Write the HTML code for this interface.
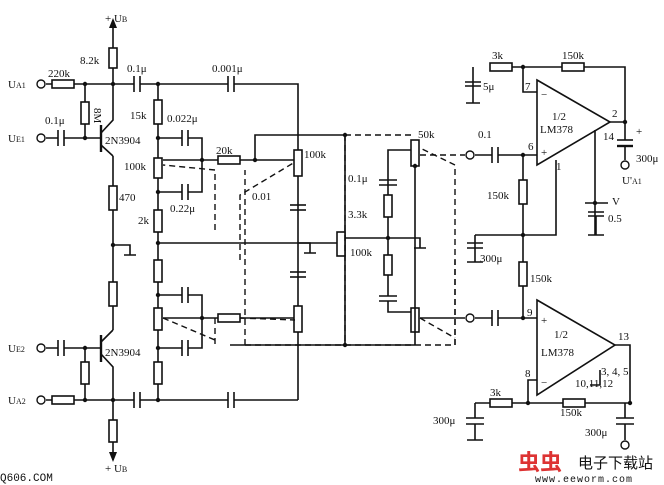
<!DOCTYPE html>
<html><head><meta charset="utf-8"><style>
html,body{margin:0;padding:0;background:#fff;}
svg{display:block;font-family:"Liberation Serif",serif;}
text{font-size:11px;fill:#111;}
</style></head><body>
<svg width="664" height="485" viewBox="0 0 664 485" xmlns="http://www.w3.org/2000/svg">
<g stroke="#111" stroke-width="1.6" fill="none">
<!-- top bus -->
<path d="M46 84H134M140 84H228M234 84H298V400"/>
<line x1="134" y1="76" x2="134" y2="92"/><line x1="140" y1="76" x2="140" y2="92"/>
<line x1="228" y1="76" x2="228" y2="92"/><line x1="234" y1="76" x2="234" y2="92"/>
<!-- UB top -->
<path d="M113 28V84"/>
<rect x="109" y="48" width="8" height="20" fill="#fff"/>
<!-- 220k -->
<rect x="52" y="80" width="22" height="8" fill="#fff"/>
<!-- 8M -->
<path d="M85 84V138"/><rect x="81" y="102" width="8" height="22" fill="#fff"/>
<!-- UE1 -->
<path d="M46 138H58M64 138H100"/>
<line x1="58" y1="130" x2="58" y2="146"/><line x1="64" y1="130" x2="64" y2="146"/>
<!-- T1 -->
<line x1="101" y1="125" x2="101" y2="152" stroke-width="2.4"/>
<path d="M101 133L113 120V84M101 145L113 156"/>
<!-- left emitter column -->
<path d="M113 156V330"/>
<rect x="109" y="186" width="8" height="24" fill="#fff"/>
<rect x="109" y="282" width="8" height="24" fill="#fff"/>
<path d="M113 245H130V255M124 255H136"/>
<!-- T2 -->
<line x1="101" y1="335" x2="101" y2="362" stroke-width="2.4"/>
<path d="M101 342L113 330M101 354L113 367V460"/>
<path d="M46 348H58M64 348H101"/>
<line x1="58" y1="340" x2="58" y2="356"/><line x1="64" y1="340" x2="64" y2="356"/>
<path d="M85 348V400"/><rect x="81" y="362" width="8" height="22" fill="#fff"/>
<!-- bottom bus -->
<path d="M46 400H134M140 400H228M234 400H298"/>
<rect x="52" y="396" width="22" height="8" fill="#fff"/>
<line x1="134" y1="392" x2="134" y2="408"/><line x1="140" y1="392" x2="140" y2="408"/>
<line x1="228" y1="392" x2="228" y2="408"/><line x1="234" y1="392" x2="234" y2="408"/>
<rect x="109" y="420" width="8" height="22" fill="#fff"/>
<!-- bias column -->
<path d="M158 84V400"/>
<rect x="154" y="100" width="8" height="24" fill="#fff"/>
<rect x="154" y="158" width="8" height="20" fill="#fff"/>
<rect x="154" y="210" width="8" height="22" fill="#fff"/>
<rect x="154" y="260" width="8" height="22" fill="#fff"/>
<rect x="154" y="308" width="8" height="22" fill="#fff"/>
<rect x="154" y="362" width="8" height="22" fill="#fff"/>
<!-- caps in bias -->
<path d="M158 138H182M188 138H202V192H188M182 192H158"/>
<line x1="182" y1="130" x2="182" y2="146"/><line x1="188" y1="130" x2="188" y2="146"/>
<line x1="182" y1="184" x2="182" y2="200"/><line x1="188" y1="184" x2="188" y2="200"/>
<path d="M158 295H182M188 295H202V348H188M182 348H158"/>
<line x1="182" y1="287" x2="182" y2="303"/><line x1="188" y1="287" x2="188" y2="303"/>
<line x1="182" y1="340" x2="182" y2="356"/><line x1="188" y1="340" x2="188" y2="356"/>
<!-- wiper lines -->
<path d="M163 160H218M240 160H295"/>
<rect x="218" y="156" width="22" height="8" fill="#fff"/>
<rect x="294" y="150" width="8" height="26" fill="#fff"/>
<path d="M163 318H218M240 318H295"/>
<rect x="218" y="314" width="22" height="8" fill="#fff"/>
<rect x="294" y="306" width="8" height="26" fill="#fff"/>
<path d="M255 160V135H345"/>
<!-- 0.01 caps -->
<line x1="290" y1="205" x2="306" y2="205"/><line x1="290" y1="210" x2="306" y2="210"/>
<line x1="290" y1="272" x2="306" y2="272"/><line x1="290" y1="277" x2="306" y2="277"/>
<!-- ground bus -->
<path d="M158 243H345"/><path d="M298 243H310V253M304 253H316"/>
<!-- middle -->
<path d="M345 135V345H230"/>
<rect x="337" y="232" width="8" height="24" fill="#fff"/>
<path d="M345 238H388V150H412M388 238H420V248M414 248H426"/>
<rect x="384" y="195" width="8" height="22" fill="#fff"/>
<line x1="379" y1="185" x2="397" y2="185"/><line x1="379" y1="180" x2="397" y2="180"/>
<line x1="379" y1="296" x2="397" y2="296"/><line x1="379" y1="301" x2="397" y2="301"/>
<path d="M388 238V296M388 301V312H412"/>
<rect x="384" y="255" width="8" height="20" fill="#fff"/>
<rect x="411" y="140" width="8" height="26" fill="#fff"/>
<rect x="411" y="308" width="8" height="24" fill="#fff"/>
<path d="M415 166V345M345 345H415"/>
<path d="M420 318H465M475 318H492M498 318H523"/>
<line x1="492" y1="310" x2="492" y2="326"/><line x1="498" y1="310" x2="498" y2="326"/>
<path d="M475 155H492M498 155H537"/>
<line x1="492" y1="147" x2="492" y2="163"/><line x1="498" y1="147" x2="498" y2="163"/>
<!-- opamp1 -->
<path d="M537 80L610 122L537 165Z"/>
<path d="M610 122H625V140M625 146V160"/>
<line x1="617" y1="140" x2="633" y2="140"/><line x1="617" y1="146" x2="633" y2="146" stroke-width="2.4"/>
<path d="M523 67V92H537M523 67H490M512 67H625V122"/>
<rect x="490" y="63" width="22" height="8" fill="#fff"/>
<rect x="562" y="63" width="22" height="8" fill="#fff"/>
<path d="M473 67V103M465 82H481M465 86H481M466 103H480"/>
<path d="M523 155V318M556 160V235H523"/>
<rect x="519" y="180" width="8" height="24" fill="#fff"/>
<rect x="519" y="262" width="8" height="24" fill="#fff"/>
<path d="M475 235H523M475 235V262M467 243H483M467 248H483M467 262H483"/>
<path d="M595 130V235M585 203H608M588 212H604M588 216H604M596 216V235M588 235H604"/>
<!-- opamp2 -->
<path d="M537 300L615 345L537 395Z"/>
<path d="M537 318H523M615 345H630V403M537 380H528V403"/>
<path d="M600 370V385H590"/>
<path d="M475 403H490M512 403H630"/>
<rect x="490" y="399" width="22" height="8" fill="#fff"/>
<rect x="563" y="399" width="22" height="8" fill="#fff"/>
<path d="M475 403V418M466 418H484M466 424H484M475 424V440M467 440H483"/>
<path d="M625 403V418M616 418H634M616 424H634M625 424V440"/>
</g>
<g stroke="#111" stroke-width="1.4" fill="none" stroke-dasharray="6,4">
<path d="M245 345V170M245 345H455V165M455 165L420 148"/>
<path d="M345 135H415M345 135V345"/>
<path d="M420 155H465"/>
<path d="M455 345V260"/>
<path d="M215 230V170L163 165M240 260V195L295 162"/>
<path d="M215 318V345M163 318L215 340M240 318L295 320"/>
<path d="M420 318L455 338"/>
</g>
<g fill="#fff" stroke="#111" stroke-width="1.4">
<circle cx="41" cy="84" r="4"/><circle cx="41" cy="138" r="4"/>
<circle cx="41" cy="348" r="4"/><circle cx="41" cy="400" r="4"/>
<circle cx="470" cy="155" r="4"/><circle cx="470" cy="318" r="4"/>
<circle cx="625" cy="165" r="4"/><circle cx="625" cy="445" r="4"/>
</g>
<g fill="#111">
<circle cx="85" cy="84" r="2.2"/><circle cx="113" cy="84" r="2.2"/><circle cx="158" cy="84" r="2.2"/>
<circle cx="85" cy="138" r="2.2"/><circle cx="158" cy="138" r="2.2"/><circle cx="158" cy="192" r="2.2"/>
<circle cx="158" cy="243" r="2.2"/><circle cx="113" cy="245" r="2.2"/><circle cx="158" cy="295" r="2.2"/>
<circle cx="158" cy="348" r="2.2"/><circle cx="85" cy="348" r="2.2"/><circle cx="85" cy="400" r="2.2"/>
<circle cx="113" cy="400" r="2.2"/><circle cx="158" cy="400" r="2.2"/><circle cx="202" cy="160" r="2.2"/>
<circle cx="255" cy="160" r="2.2"/><circle cx="345" cy="135" r="2.2"/><circle cx="345" cy="345" r="2.2"/>
<circle cx="388" cy="238" r="2.2"/><circle cx="523" cy="67" r="2.2"/><circle cx="523" cy="155" r="2.2"/>
<circle cx="523" cy="235" r="2.2"/><circle cx="523" cy="318" r="2.2"/><circle cx="625" cy="122" r="2.2"/>
<circle cx="595" cy="203" r="2.2"/><circle cx="528" cy="403" r="2.2"/><circle cx="630" cy="403" r="2.2"/>
<circle cx="202" cy="318" r="2.2"/><circle cx="415" cy="166" r="2.2"/>
<path d="M109 28L113 18L117 28Z"/><path d="M109 452L113 462L117 452Z"/>
</g>
<text x="105" y="22">+ U<tspan font-size="8">B</tspan></text>
<text x="80" y="64">8.2k</text><text x="127" y="72">0.1μ</text><text x="212" y="72">0.001μ</text>
<text x="8" y="88">U<tspan font-size="8">A1</tspan></text><text x="48" y="77">220k</text>
<text x="90" y="112" transform="rotate(90 94 112)">8M</text>
<text x="45" y="124">0.1μ</text><text x="8" y="142">U<tspan font-size="8">E1</tspan></text>
<text x="105" y="144">2N3904</text><text x="130" y="119">15k</text><text x="167" y="122">0.022μ</text>
<text x="124" y="170">100k</text><text x="216" y="154">20k</text><text x="304" y="158">100k</text>
<text x="119" y="201">470</text><text x="170" y="212">0.22μ</text><text x="252" y="200">0.01</text>
<text x="138" y="224">2k</text><text x="8" y="352">U<tspan font-size="8">E2</tspan></text>
<text x="105" y="356">2N3904</text><text x="8" y="404">U<tspan font-size="8">A2</tspan></text>
<text x="105" y="472">+ U<tspan font-size="8">B</tspan></text>
<text x="418" y="138">50k</text><text x="478" y="138">0.1</text><text x="348" y="182">0.1μ</text>
<text x="348" y="218">3.3k</text><text x="350" y="256">100k</text>
<text x="492" y="59">3k</text><text x="562" y="59">150k</text><text x="483" y="90">5μ</text>
<text x="525" y="90">7</text><text x="541" y="98">−</text><text x="552" y="120">1/2</text><text x="540" y="133">LM378</text>
<text x="612" y="117">2</text><text x="603" y="140">14</text><text x="636" y="135">+</text>
<text x="528" y="150">6</text><text x="541" y="156">+</text><text x="556" y="170">1</text>
<text x="636" y="162">300μ</text><text x="622" y="184">U'<tspan font-size="8">A1</tspan></text>
<text x="612" y="205">V</text><text x="608" y="222">0.5</text>
<text x="487" y="199">150k</text><text x="480" y="262">300μ</text><text x="530" y="282">150k</text>
<text x="527" y="316">9</text><text x="541" y="324">+</text><text x="554" y="338">1/2</text><text x="541" y="356">LM378</text>
<text x="618" y="340">13</text><text x="525" y="377">8</text><text x="541" y="386">−</text>
<text x="601" y="375">3, 4, 5</text><text x="575" y="387">10,11,12</text>
<text x="490" y="396">3k</text><text x="560" y="416">150k</text>
<text x="433" y="424">300μ</text><text x="585" y="436">300μ</text>
<text x="0" y="481" font-family="Liberation Mono" font-size="10">Q606.COM</text>
<text x="518" y="470" style="font-size:22px;fill:#d33;font-weight:bold;font-family:'Noto Sans CJK SC',sans-serif">虫虫</text>
<text x="578" y="468" style="font-size:15px;font-family:'Noto Sans CJK SC',sans-serif">电子下载站</text>
<text x="535" y="482" style="font-size:10px;font-family:'Liberation Mono',monospace;letter-spacing:1px">www.eeworm.com</text>
</svg>
</body></html>
